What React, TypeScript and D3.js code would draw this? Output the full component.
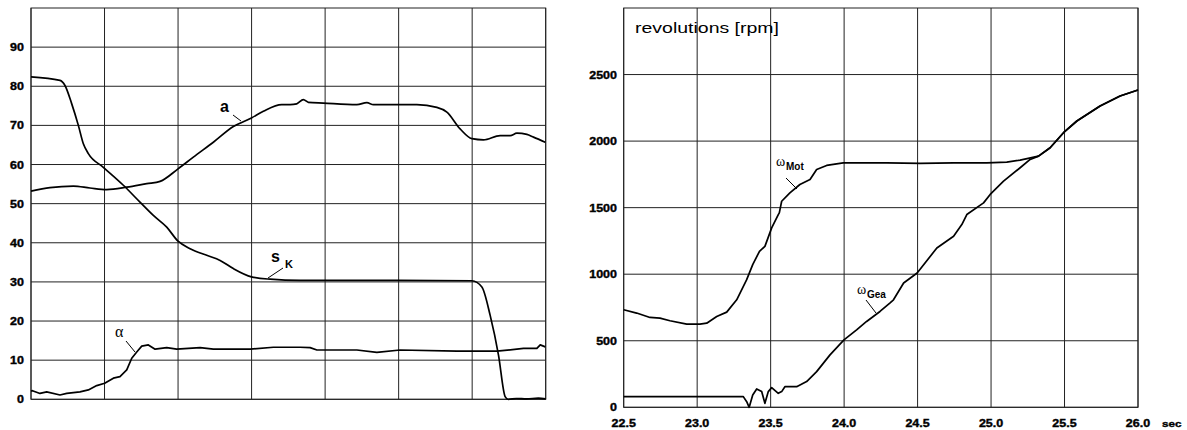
import React from "react";
import * as d3 from "d3";

// ---------- data ----------
const leftYTicks = [0, 10, 20, 30, 40, 50, 60, 70, 80, 90];
const rightYTicks = [0, 500, 1000, 1500, 2000, 2500];
const xTicks = [22.5, 23.0, 23.5, 24.0, 24.5, 25.0, 25.5, 26.0];

const sKT = [22.5, 22.697, 22.731, 22.777, 22.822, 22.856, 22.89, 22.992, 23.128, 23.241, 23.332, 23.423, 23.5, 23.582, 23.695, 23.786, 23.876, 23.999, 24.126, 24.33, 25.0, 25.498, 25.566, 25.622, 25.679, 25.724, 25.745, 25.8, 25.87, 25.95, 26.0];
const sKV = [82.4, 81.5, 80.2, 75.5, 70, 65.3, 62.8, 59.3, 54.7, 50.4, 47, 44, 40.4, 38.5, 36.8, 35.5, 33.4, 31.3, 30.7, 30.4, 30.4, 30.3, 28.7, 21.5, 11.3, 0.7, 0, 0.2, 0.1, 0.3, 0.1];

const aT = [22.5, 22.629, 22.788, 22.901, 23.015, 23.151, 23.287, 23.378, 23.5, 23.604, 23.740, 23.876, 23.999, 24.080, 24.205, 24.262, 24.307, 24.352, 24.386, 24.488, 24.716, 24.784, 24.829, 25.124, 25.260, 25.328, 25.418, 25.498, 25.577, 25.690, 25.759, 25.804, 25.872, 25.917, 25.997];
const aV = [53.2, 54.1, 54.5, 54.0, 53.6, 54.2, 55.1, 55.7, 58.9, 61.9, 65.7, 69.7, 71.9, 73.6, 75.3, 75.3, 75.5, 76.6, 75.9, 75.7, 75.3, 75.8, 75.3, 75.3, 74.6, 73.4, 69.1, 66.6, 66.3, 67.4, 67.4, 68.0, 67.7, 67.0, 65.7];

const alphaT = [22.5, 22.51, 22.561, 22.607, 22.697, 22.743, 22.833, 22.89, 22.947, 23.001, 23.06, 23.105, 23.151, 23.185, 23.219, 23.253, 23.298, 23.344, 23.423, 23.491, 23.65, 23.74, 23.99, 24.148, 24.33, 24.398, 24.444, 24.716, 24.852, 25.01, 25.396, 25.668, 25.849, 25.94, 25.963, 25.997];
const alphaV = [2.1, 2.2, 1.5, 1.9, 1.1, 1.5, 1.9, 2.4, 3.5, 4.1, 5.4, 5.8, 7.5, 10.5, 12.1, 13.6, 13.9, 12.8, 13.2, 12.8, 13.2, 12.8, 12.8, 13.3, 13.3, 13.2, 12.6, 12.6, 12.0, 12.6, 12.3, 12.3, 13.0, 13.0, 13.9, 13.4];

const motT = [22.5, 22.588, 22.679, 22.747, 22.815, 22.929, 23.019, 23.065, 23.133, 23.201, 23.269, 23.337, 23.378, 23.424, 23.461, 23.507, 23.552, 23.559, 23.575, 23.631, 23.699, 23.768, 23.813, 23.881, 23.994, 24.291, 24.518, 24.745, 24.971, 25.107, 25.198, 25.323, 25.402, 25.493, 25.584, 25.742, 25.878, 26.0];
const motV = [733, 708, 675, 670, 650, 625, 625, 632, 682, 715, 808, 959, 1072, 1172, 1209, 1348, 1448, 1461, 1548, 1611, 1674, 1711, 1787, 1817, 1837, 1837, 1832, 1837, 1837, 1842, 1857, 1887, 1950, 2063, 2151, 2264, 2339, 2384];

const geaT = [22.5, 23.314, 23.337, 23.354, 23.378, 23.405, 23.439, 23.461, 23.484, 23.507, 23.552, 23.575, 23.597, 23.677, 23.745, 23.813, 23.904, 23.999, 24.085, 24.153, 24.244, 24.311, 24.336, 24.405, 24.497, 24.631, 24.745, 24.801, 24.835, 24.949, 24.994, 25.085, 25.198, 25.266, 25.323, 25.402, 25.493, 25.584, 25.742, 25.878, 26.0];
const geaV = [80, 80, 42, 0, 93, 138, 118, 30, 118, 148, 105, 118, 155, 155, 193, 268, 394, 507, 582, 645, 720, 783, 808, 934, 1009, 1197, 1285, 1373, 1448, 1536, 1599, 1699, 1800, 1862, 1887, 1950, 2063, 2151, 2264, 2339, 2384];

// ---------- layout ----------
const W = 1187, H = 430;
const L = { x0: 31, x1: 545.7, y0: 8, y1: 399.3 };
const R = { x0: 623.7, x1: 1138, y0: 8, y1: 407.3 };

const lxS = d3.scaleLinear().domain([22.5, 26]).range([L.x0, L.x1]);
const lyS = d3.scaleLinear().domain([0, 100]).range([L.y1, L.y0]);
const rxS = d3.scaleLinear().domain([22.5, 26]).range([R.x0, R.x1]);
const ryS = d3.scaleLinear().domain([0, 3000]).range([R.y1, R.y0]);

const zip = (t: number[], v: number[]) => t.map((x, i) => [x, v[i]] as [number, number]);

const tickFont = { fontFamily: "Liberation Sans, Arial, sans-serif", fontWeight: 700, fontSize: 10, stroke: "#000", strokeWidth: 0.35 } as const;
const gridColor = "#222";

function Grid({ xs, ys, box, yTicks, xTickVals }: any) {
  return (
    <g>
      {xTickVals.map((t: number) => (
        <line key={"v" + t} x1={xs(t)} x2={xs(t)} y1={box.y0} y2={box.y1} stroke={gridColor} strokeWidth={1} />
      ))}
      {yTicks.map((v: number) => (
        <line key={"h" + v} x1={box.x0} x2={box.x1} y1={ys(v)} y2={ys(v)} stroke={gridColor} strokeWidth={1} />
      ))}
      <rect x={box.x0} y={box.y0} width={box.x1 - box.x0} height={box.y1 - box.y0} fill="none" stroke={gridColor} strokeWidth={1} />
    </g>
  );
}

export default function App() {
  const lLine = d3.line<[number, number]>().x(d => lxS(d[0])).y(d => lyS(d[1])).curve(d3.curveMonotoneX);
  const lLineLin = d3.line<[number, number]>().x(d => lxS(d[0])).y(d => lyS(d[1]));
  const rLine = d3.line<[number, number]>().x(d => rxS(d[0])).y(d => ryS(d[1]));

  const curveStyle = { fill: "none", stroke: "#000", strokeWidth: 1.7, strokeLinejoin: "round" as const };

  return (
    <svg width={W} height={H} style={{ position: "absolute", left: 0, top: 0, background: "#fff" }}>
      {/* left panel */}
      <Grid xs={lxS} ys={lyS} box={L} yTicks={leftYTicks} xTickVals={xTicks} />
      {leftYTicks.map(v => (
        <text key={"ly" + v} x={24} y={lyS(v) + 4} textAnchor="end" {...tickFont} transform={`translate(24,0) scale(1.25,1) translate(-24,0)`}>{v}</text>
      ))}
      <path d={lLine(zip(sKT, sKV))!} {...curveStyle} />
      <path d={lLine(zip(aT, aV))!} {...curveStyle} />
      <path d={lLineLin(zip(alphaT, alphaV))!} {...curveStyle} />
      {/* labels left */}
      <text x={220} y={112} fontFamily="Liberation Sans, Arial, sans-serif" fontSize={16} fontWeight={700}>a</text>
      <line x1={233} y1={115} x2={241} y2={121} stroke="#000" strokeWidth={1} />
      <text x={271} y={262} fontFamily="Liberation Sans, Arial, sans-serif" fontSize={16} fontWeight={700}>s</text>
      <text x={285} y={268} fontFamily="Liberation Sans, Arial, sans-serif" fontSize={11} fontWeight={700}>K</text>
      <line x1={283} y1={268} x2={268} y2={278} stroke="#000" strokeWidth={1} />
      <text x={115} y={337} fontFamily="Liberation Serif, DejaVu Serif, serif" fontSize={16}>α</text>
      <line x1={126} y1={341} x2={135} y2={352} stroke="#000" strokeWidth={1} />

      {/* right panel */}
      <Grid xs={rxS} ys={ryS} box={R} yTicks={rightYTicks} xTickVals={xTicks} />
      {rightYTicks.map(v => (
        <text key={"ry" + v} x={617} y={ryS(v) + 4} textAnchor="end" {...tickFont} transform={`translate(617,0) scale(1.25,1) translate(-617,0)`}>{v}</text>
      ))}
      {xTicks.map(t => (
        <text key={"rx" + t} x={rxS(t)} y={427} textAnchor="middle" {...tickFont} transform={`translate(${rxS(t)},0) scale(1.25,1) translate(${-rxS(t)},0)`}>{t.toFixed(1)}</text>
      ))}
      <text x={1162} y={427} {...tickFont} fontSize={9} transform="translate(1162,0) scale(1.3,1) translate(-1162,0)">sec</text>
      <text x={635} y={33} fontFamily="Liberation Sans, Arial, sans-serif" fontSize={15} textLength={144} lengthAdjust="spacingAndGlyphs">revolutions [rpm]</text>
      <path d={rLine(zip(motT, motV))!} {...curveStyle} />
      <path d={rLine(zip(geaT, geaV))!} {...curveStyle} />
      {/* labels right */}
      <text x={776} y={166} fontFamily="Liberation Serif, DejaVu Serif, serif" fontSize={14}>ω</text>
      <text x={786} y={170} fontFamily="Liberation Sans, Arial, sans-serif" fontSize={10} fontWeight={700}>Mot</text>
      <line x1={786} y1={178} x2={797} y2={189} stroke="#000" strokeWidth={1} />
      <text x={857} y={294} fontFamily="Liberation Serif, DejaVu Serif, serif" fontSize={14}>ω</text>
      <text x={867} y={298} fontFamily="Liberation Sans, Arial, sans-serif" fontSize={10} fontWeight={700}>Gea</text>
      <line x1={866} y1={300} x2={876} y2={313} stroke="#000" strokeWidth={1} />
    </svg>
  );
}
